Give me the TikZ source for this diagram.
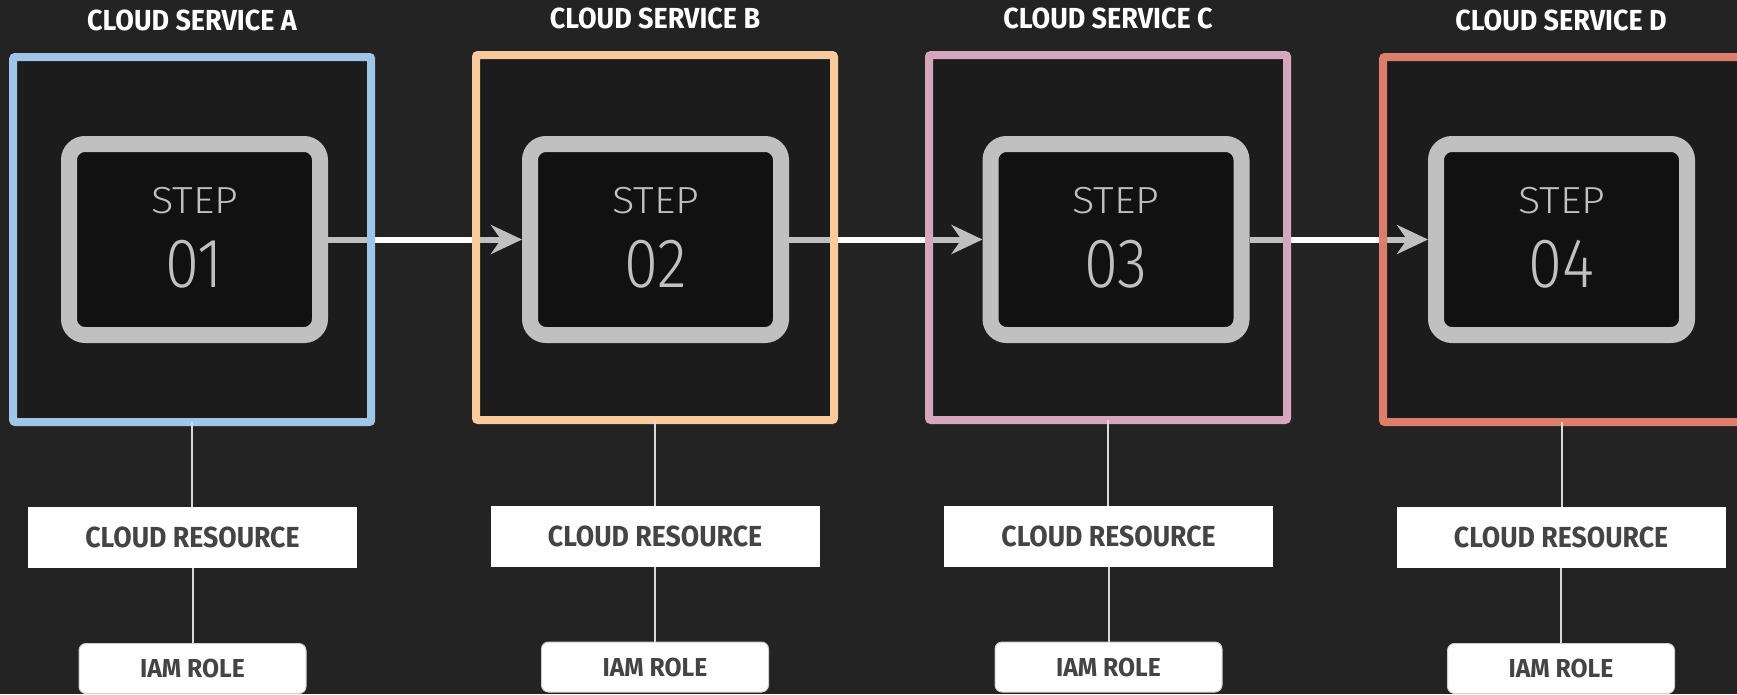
\documentclass[tikz,border=0pt]{standalone}
\usepackage{fontspec}
\setmainfont{Fira Sans}
\newfontfamily\boldfont{Fira Sans}[FakeStretch=0.93]
\newfontfamily\resfont{Fira Sans}[FakeStretch=0.92]
\newfontfamily\iamfont{Fira Sans}[FakeStretch=0.95]
\newfontfamily\lightfont{Fira Sans Light}[FakeStretch=1.1]
\newfontfamily\digitfont{Fira Sans Light}[FakeStretch=0.88]
\usetikzlibrary{arrows.meta,calc}
\definecolor{bg}{HTML}{232323}
\definecolor{svcfill}{HTML}{1C1C1C}
\definecolor{stepfill}{HTML}{111111}
\definecolor{stepgray}{HTML}{C0C0C0}
\definecolor{restext}{HTML}{444444}
\definecolor{iamedge}{HTML}{D0D0D0}
\definecolor{tiegray}{HTML}{D9D9D9}
\definecolor{blueA}{HTML}{9FC5E8}
\definecolor{orangeB}{HTML}{F9CB9C}
\definecolor{pinkC}{HTML}{D5A6BD}
\definecolor{redD}{HTML}{DD7E6B}
\tikzset{
  svc/.style={fill=svcfill, minimum width=358pt, minimum height=365pt, inner sep=0pt, outer sep=0pt},
  svcborder/.style={line width=8pt, rounded corners=2pt},
  stepbox/.style={fill=stepfill, draw=stepgray, line width=16pt, minimum width=251pt, minimum height=191pt, rounded corners=16pt, inner sep=0pt},
  steplbl/.style={text=stepgray, font=\lightfont\fontsize{37.7}{40}\selectfont, anchor=base, inner sep=0pt},
  stepnum/.style={text=stepgray, font=\digitfont\fontsize{70}{72}\selectfont, anchor=base, inner sep=0pt},
  title/.style={text=white, font=\boldfont\bfseries\fontsize{29}{30}\selectfont, anchor=base, inner sep=0pt},
  resbox/.style={fill=white, minimum width=329pt, minimum height=61pt, inner sep=0pt, text=restext, font=\resfont\bfseries\fontsize{29}{30}\selectfont},
  iambox/.style={fill=white, draw=iamedge, line width=1pt, rounded corners=7pt, minimum width=227pt, minimum height=50pt, inner sep=0pt, text=restext, font=\iamfont\bfseries\fontsize{26}{28}\selectfont},
  flow/.style={line width=6pt, draw=stepgray, -{Stealth[length=31pt,width=29pt,inset=10pt]}},
  gapline/.style={line width=6pt, draw=white},
  tie/.style={line width=2pt, draw=tiegray},
}
\begin{document}
\begin{tikzpicture}[x=1pt,y=-1pt]
\path[use as bounding box, fill=bg] (0,0) rectangle (1737,694);
% service containers (fill only)
\node[svc] (sA) at (192.2,239.5) {};
\node[svc] (sB) at (655,237.5) {};
\node[svc] (sC) at (1108,237.5) {};
\node[svc] (sD) at (1562,239.5) {};
% step boxes
\node[stepbox] (stA) at (194.5,239.5) {};
\node[stepbox] (stB) at (655.5,239.5) {};
\node[stepbox] (stC) at (1116,239.5) {};
\node[stepbox] (stD) at (1561.5,239.5) {};
% flow arrows
\draw[flow] (stA.east) -- (stB.west);
\draw[flow] (stB.east) -- (stC.west);
\draw[flow] (stC.east) -- (stD.west);
\draw[gapline] (sA.east |- stA.east) -- (sB.west |- stA.east);
\draw[gapline] (sB.east |- stB.east) -- (sC.west |- stB.east);
\draw[gapline] (sC.east |- stC.east) -- (sD.west |- stC.east);
% container borders
\draw[svcborder, draw=blueA] (sA.north west) rectangle (sA.south east);
\draw[svcborder, draw=orangeB] (sB.north west) rectangle (sB.south east);
\draw[svcborder, draw=pinkC] (sC.north west) rectangle (sC.south east);
\draw[svcborder, draw=redD] (sD.north west) rectangle (sD.south east);
% titles
\node[title] (tA) at (192,30) {CLOUD SERVICE A};
\node[title] (tB) at (655,28) {CLOUD SERVICE B};
\node[title] (tC) at (1108,28) {CLOUD SERVICE C};
\node[title] (tD) at (1561,30) {CLOUD SERVICE D};
% step labels
\node[steplbl] (lA) at (194.5,213) {STEP};
\node[steplbl] (lB) at (655.5,213) {STEP};
\node[steplbl] (lC) at (1116,213) {STEP};
\node[steplbl] (lD) at (1561.5,213) {STEP};
\node[stepnum] (nA) at (194.5,287) {01};
\node[stepnum] (nB) at (655.5,287) {02};
\node[stepnum] (nC) at (1116,287) {03};
\node[stepnum] (nD) at (1561.5,287) {04};
% resources and roles
\node[resbox] (rA) at (192.5,537.5) {CLOUD RESOURCE};
\node[resbox] (rB) at (655,536.5) {CLOUD RESOURCE};
\node[resbox] (rC) at (1108.5,536.5) {CLOUD RESOURCE};
\node[resbox] (rD) at (1561,537.5) {CLOUD RESOURCE};
\node[iambox] (iA) at (192.5,668.5) {IAM ROLE};
\node[iambox] (iB) at (655,667) {IAM ROLE};
\node[iambox] (iC) at (1108.5,667) {IAM ROLE};
\node[iambox] (iD) at (1561,668.5) {IAM ROLE};
% ties
\draw[tie] (sA.south) -- (sA.south |- rA.north);
\draw[tie] (sB.south) -- (sB.south |- rB.north);
\draw[tie] (sC.south) -- (sC.south |- rC.north);
\draw[tie] (sD.south) -- (sD.south |- rD.north);
\draw[tie] (rA.south) -- (iA.north);
\draw[tie] (rB.south) -- (iB.north);
\draw[tie] (rC.south) -- (iC.north);
\draw[tie] (rD.south) -- (iD.north);
\end{tikzpicture}
\end{document}
